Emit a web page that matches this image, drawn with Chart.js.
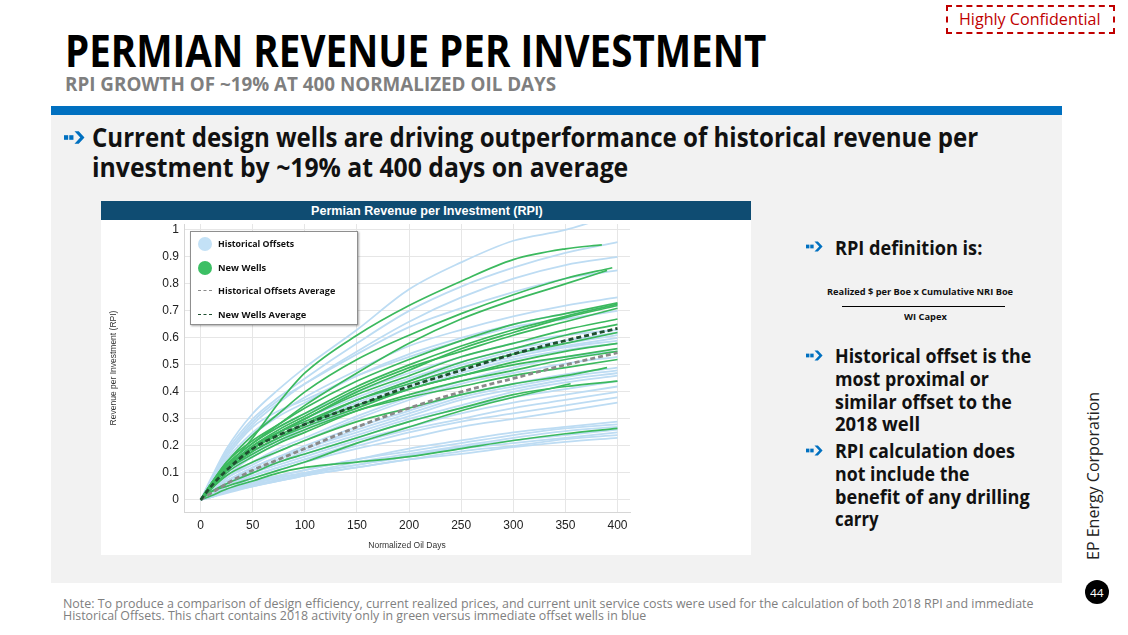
<!DOCTYPE html>
<html><head><meta charset="utf-8">
<script src="https://cdn.jsdelivr.net/npm/chart.js@4.4.1/dist/chart.umd.min.js"></script>
<style>
html,body{margin:0;padding:0}
body{width:1128px;height:635px;position:relative;background:#fff;overflow:hidden;font-family:"Open Sans",sans-serif;}
.abs{position:absolute;white-space:nowrap;line-height:1;}
.fit{display:inline-block;transform-origin:0 50%;white-space:nowrap}
.b{font-weight:700}
.arrow{position:absolute}
</style></head><body>
<!-- header -->
<div class="abs" style="left:946px;top:5px;width:165px;height:25px;border:2px dashed #c00000;"></div>
<div class="abs" style="left:959px;top:10px;font-size:17px;color:#c00000;font-family:'Open Sans'"><span class="fit" data-w="142">Highly Confidential</span></div>
<div class="abs b" style="left:65px;top:28px;font-size:44px;color:#000;"><span class="fit" data-w="701">PERMIAN REVENUE PER INVESTMENT</span></div>
<div class="abs b" style="left:65px;top:74px;font-size:20px;color:#7f7f7f;"><span class="fit" data-w="491">RPI GROWTH OF ~19% AT 400 NORMALIZED OIL DAYS</span></div>
<div class="abs" style="left:51px;top:106px;width:1011px;height:9px;background:#0070c0"></div>
<div class="abs" style="left:51px;top:115px;width:1011px;height:468px;background:#f2f2f2"></div>

<svg class="arrow" style="left:64px;top:131px" width="21" height="13" viewBox="0 0 20 12"><rect x="0" y="3.8" width="4" height="4.4" fill="#0070c0"/><rect x="5" y="3.8" width="4" height="4.4" fill="#0070c0"/><polygon points="10,0 14,0 19.5,6 14,12 10,12 15.5,6" fill="#0070c0"/></svg>
<div class="abs b" style="left:92px;top:124px;font-size:26px;color:#111;"><span class="fit" data-w="886">Current design wells are driving outperformance of historical revenue per</span></div>
<div class="abs b" style="left:92px;top:154px;font-size:26px;color:#111;"><span class="fit" data-w="536">investment by ~19% at 400 days on average</span></div>

<!-- chart box -->
<div class="abs" style="left:101px;top:201px;width:650px;height:19px;background:#0f4c72"></div>
<div class="abs b" style="left:311px;top:205px;font-size:12px;color:#fff;font-family:'Liberation Sans'"><span class="fit" data-w="232">Permian Revenue per Investment (RPI)</span></div>
<div class="abs" style="left:101px;top:220px;width:650px;height:335px;background:#fff">
  <canvas id="c" width="650" height="335" style="width:650px;height:335px;display:block"></canvas>
</div>

<!-- legend -->
<div class="abs" style="left:190px;top:231px;width:166px;height:92px;background:#fff;border:1px solid #8f8f8f;box-shadow:1px 1px 2px rgba(0,0,0,0.35)"></div>
<div class="abs" style="left:198px;top:237px;width:14px;height:14px;border-radius:50%;background:#c3e1f6"></div>
<div class="abs" style="left:198px;top:261px;width:14px;height:14px;border-radius:50%;background:#3cbf64"></div>
<div class="abs" style="left:198px;top:290px;width:14px;height:0;border-top:1.5px dashed #8a8a8a"></div>
<div class="abs" style="left:198px;top:314px;width:14px;height:0;border-top:1.5px dashed #1f4f30"></div>
<div class="abs b" style="left:218px;top:239px;font-size:9.5px;color:#111"><span class="fit" data-w="76">Historical Offsets</span></div>
<div class="abs b" style="left:218px;top:263px;font-size:9.5px;color:#111"><span class="fit" data-w="48">New Wells</span></div>
<div class="abs b" style="left:218px;top:286px;font-size:9.5px;color:#111"><span class="fit" data-w="117">Historical Offsets Average</span></div>
<div class="abs b" style="left:218px;top:310px;font-size:9.5px;color:#111"><span class="fit" data-w="88">New Wells Average</span></div>

<!-- right column -->
<svg class="arrow" style="left:806px;top:241px" width="17" height="11" viewBox="0 0 20 12"><rect x="0" y="3.8" width="4" height="4.4" fill="#0070c0"/><rect x="5" y="3.8" width="4" height="4.4" fill="#0070c0"/><polygon points="10,0 14,0 19.5,6 14,12 10,12 15.5,6" fill="#0070c0"/></svg>
<div class="abs b" style="left:835px;top:238px;font-size:19.5px;color:#111"><span class="fit" data-w="147">RPI definition is:</span></div>
<div class="abs b" style="left:827px;top:288px;font-size:8px;color:#111"><span class="fit" data-w="186">Realized $ per Boe x Cumulative NRI Boe</span></div>
<div class="abs" style="left:842px;top:305.5px;width:163px;height:1.6px;background:#000"></div>
<div class="abs b" style="left:904px;top:313px;font-size:8px;color:#111"><span class="fit" data-w="43">WI Capex</span></div>

<svg class="arrow" style="left:806px;top:350px" width="17" height="11" viewBox="0 0 20 12"><rect x="0" y="3.8" width="4" height="4.4" fill="#0070c0"/><rect x="5" y="3.8" width="4" height="4.4" fill="#0070c0"/><polygon points="10,0 14,0 19.5,6 14,12 10,12 15.5,6" fill="#0070c0"/></svg>
<div class="abs b" style="left:835px;top:347.4px;font-size:18.7px;color:#111"><span class="fit" data-w="196">Historical offset is the</span></div>
<div class="abs b" style="left:835px;top:370.1px;font-size:18.7px;color:#111"><span class="fit" data-w="154">most proximal or</span></div>
<div class="abs b" style="left:835px;top:392.8px;font-size:18.7px;color:#111"><span class="fit" data-w="177">similar offset to the</span></div>
<div class="abs b" style="left:835px;top:415.4px;font-size:18.7px;color:#111"><span class="fit" data-w="85">2018 well</span></div>
<svg class="arrow" style="left:806px;top:445px" width="17" height="11" viewBox="0 0 20 12"><rect x="0" y="3.8" width="4" height="4.4" fill="#0070c0"/><rect x="5" y="3.8" width="4" height="4.4" fill="#0070c0"/><polygon points="10,0 14,0 19.5,6 14,12 10,12 15.5,6" fill="#0070c0"/></svg>
<div class="abs b" style="left:835px;top:442.4px;font-size:18.7px;color:#111"><span class="fit" data-w="180">RPI calculation does</span></div>
<div class="abs b" style="left:835px;top:465.1px;font-size:18.7px;color:#111"><span class="fit" data-w="135">not include the</span></div>
<div class="abs b" style="left:835px;top:487.8px;font-size:18.7px;color:#111"><span class="fit" data-w="195">benefit of any drilling</span></div>
<div class="abs b" style="left:835px;top:510.4px;font-size:18.7px;color:#111"><span class="fit" data-w="44">carry</span></div>

<div class="abs" style="left:1009px;top:468px;width:168px;height:16px;font-size:16.4px;color:#222;transform:rotate(-90deg);transform-origin:84px 8px"><span class="fit" data-w="168">EP Energy Corporation</span></div>
<div class="abs" style="left:1085px;top:580px;width:24px;height:24px;border-radius:50%;background:#000"></div>
<div class="abs" style="left:1090px;top:587px;font-size:11px;color:#fff"><span class="fit" data-w="14">44</span></div>

<div class="abs" style="left:63px;top:598px;font-size:12px;color:#808080"><span class="fit" data-w="970">Note: To produce a comparison of design efficiency, current realized prices, and current unit service costs were used for the calculation of both 2018 RPI and immediate</span></div>
<div class="abs" style="left:63px;top:610px;font-size:12px;color:#808080"><span class="fit" data-w="583">Historical Offsets. This chart contains 2018 activity only in green versus immediate offset wells in blue</span></div>

<script>
// ---------- DATA ----------
const days    = [0,10,25,50,75,100,150,200,250,300,350,400];
const days385 = [0,10,25,50,75,100,150,200,250,300,350,385];
const days390 = [0,10,25,50,75,100,150,200,250,300,350,390];
const days395 = [0,10,25,50,75,100,150,200,250,300,350,395];
const days355 = [0,10,25,50,75,100,150,200,250,300,355];
const xTicks = [0,50,100,150,200,250,300,350,400];
const yTicks = [0,0.1,0.2,0.3,0.4,0.5,0.6,0.7,0.8,0.9,1];
const yTickLabels = ['0','0.1','0.2','0.3','0.4','0.5','0.6','0.7','0.8','0.9','1'];

// Historical offsets (blue), RPI at each of `days`
const hist01 = [0,0.08,0.19,0.32,0.41,0.49,0.63,0.78,0.88,0.96,1.0,1.06];
const hist02 = [0,0.07,0.18,0.30,0.38,0.45,0.58,0.70,0.79,0.86,0.915,0.955];
const hist03 = [0,0.07,0.17,0.28,0.36,0.43,0.55,0.66,0.75,0.82,0.87,0.90];
const hist04 = [0,0.07,0.17,0.29,0.37,0.43,0.54,0.64,0.71,0.77,0.82,0.85];
const hist05 = [0,0.06,0.15,0.25,0.32,0.38,0.48,0.57,0.63,0.68,0.72,0.75];
const hist06 = [0,0.06,0.14,0.24,0.31,0.36,0.46,0.54,0.60,0.65,0.69,0.72];
const hist07 = [0,0.07,0.16,0.27,0.33,0.37,0.46,0.53,0.59,0.64,0.67,0.70];
const hist08 = [0,0.05,0.12,0.21,0.27,0.32,0.40,0.47,0.53,0.58,0.61,0.63];
const hist09 = [0,0.04,0.11,0.19,0.25,0.30,0.38,0.45,0.51,0.56,0.59,0.62];
const hist10 = [0,0.05,0.12,0.19,0.25,0.29,0.37,0.44,0.50,0.55,0.58,0.61];
const hist11 = [0,0.04,0.10,0.17,0.23,0.28,0.36,0.43,0.49,0.54,0.57,0.60];
const hist12 = [0,0.04,0.10,0.17,0.22,0.27,0.35,0.42,0.48,0.53,0.565,0.59];
const hist13 = [0,0.04,0.09,0.16,0.21,0.26,0.34,0.41,0.47,0.52,0.555,0.58];
const hist14 = [0,0.03,0.08,0.14,0.19,0.23,0.31,0.38,0.44,0.49,0.53,0.55];
const hist15 = [0,0.03,0.08,0.13,0.18,0.22,0.30,0.37,0.43,0.47,0.505,0.53];
const hist16 = [0,0.03,0.07,0.12,0.16,0.20,0.27,0.33,0.39,0.43,0.465,0.49];
const hist17 = [0,0.03,0.07,0.12,0.16,0.19,0.26,0.32,0.38,0.42,0.455,0.48];
const hist18 = [0,0.03,0.07,0.11,0.15,0.19,0.25,0.31,0.37,0.41,0.445,0.47];
const hist19 = [0,0.02,0.06,0.11,0.14,0.18,0.24,0.30,0.35,0.40,0.435,0.46];
const hist20 = [0,0.02,0.06,0.10,0.14,0.17,0.23,0.29,0.34,0.38,0.41,0.44];
const hist21 = [0,0.02,0.05,0.10,0.13,0.16,0.22,0.27,0.32,0.36,0.39,0.42];
const hist22 = [0,0.02,0.05,0.09,0.12,0.15,0.21,0.26,0.30,0.34,0.37,0.40];
const hist23 = [0,0.02,0.05,0.09,0.12,0.15,0.20,0.25,0.29,0.32,0.35,0.38];
const hist24 = [0,0.02,0.04,0.08,0.11,0.14,0.19,0.23,0.27,0.30,0.33,0.36];
const hist25 = [0,0.015,0.04,0.07,0.09,0.11,0.15,0.19,0.22,0.25,0.27,0.29];
const hist26 = [0,0.015,0.035,0.065,0.09,0.11,0.15,0.18,0.21,0.24,0.265,0.28];
const hist27 = [0,0.015,0.035,0.06,0.085,0.10,0.14,0.17,0.20,0.23,0.255,0.27];
const hist28 = [0,0.01,0.03,0.06,0.08,0.10,0.13,0.165,0.195,0.22,0.24,0.26];
const hist29 = [0,0.01,0.03,0.055,0.075,0.095,0.13,0.16,0.19,0.21,0.23,0.25];
const hist30 = [0,0.01,0.03,0.05,0.07,0.09,0.12,0.15,0.18,0.20,0.225,0.24];
const hist31 = [0,0.01,0.025,0.05,0.07,0.09,0.12,0.15,0.17,0.195,0.215,0.23];

// New wells (green)
const new01 = [0,0.05,0.12,0.23,0.36,0.47,0.61,0.72,0.81,0.89,0.93,0.945]; // days385
const new02 = [0,0.06,0.14,0.24,0.32,0.40,0.52,0.61,0.69,0.76,0.82,0.86];  // days395
const new03 = [0,0.05,0.13,0.21,0.28,0.35,0.47,0.58,0.67,0.74,0.80,0.85];  // days390
const new04 = [0,0.06,0.14,0.22,0.28,0.34,0.44,0.52,0.59,0.65,0.69,0.73];
const new05 = [0,0.06,0.13,0.21,0.27,0.32,0.42,0.50,0.57,0.63,0.68,0.725];
const new06 = [0,0.05,0.12,0.19,0.25,0.30,0.40,0.48,0.56,0.62,0.675,0.72];
const new07 = [0,0.05,0.12,0.20,0.26,0.31,0.41,0.49,0.55,0.61,0.66,0.71];
const new08 = [0,0.05,0.12,0.19,0.25,0.30,0.39,0.46,0.53,0.58,0.63,0.67];
const new09 = [0,0.05,0.11,0.18,0.23,0.28,0.37,0.44,0.51,0.56,0.61,0.65];
const new10 = [0,0.06,0.12,0.20,0.25,0.29,0.37,0.43,0.49,0.54,0.58,0.62];
const new11 = [0,0.05,0.11,0.18,0.23,0.27,0.34,0.41,0.46,0.51,0.55,0.58];
const new12 = [0,0.06,0.12,0.19,0.24,0.28,0.35,0.41,0.46,0.50,0.53,0.56];
const new13 = [0,0.04,0.10,0.16,0.21,0.25,0.33,0.39,0.44,0.48,0.52,0.55];
const new14 = [0,0.05,0.11,0.17,0.22,0.26,0.33,0.38,0.42,0.46,0.49,0.52];
const new15 = [0,0.04,0.09,0.14,0.18,0.22,0.29,0.34,0.39,0.43,0.46,0.49];  // days390
const new16 = [0,0.03,0.06,0.10,0.14,0.17,0.23,0.29,0.34,0.39,0.42,0.44];
const new17 = [0,0.03,0.05,0.08,0.11,0.14,0.21,0.27,0.33,0.38,0.43];      // days355
const new18 = [0,0.015,0.04,0.07,0.10,0.12,0.14,0.16,0.19,0.22,0.245,0.265];

// Averages
const histAvg = [0,0.025,0.06,0.11,0.15,0.19,0.27,0.34,0.40,0.45,0.50,0.545];
const newAvg  = [0,0.05,0.11,0.19,0.24,0.28,0.35,0.42,0.48,0.54,0.59,0.635];

// ---------- BUILD ----------
const pts = (xs, ys) => ys.map((y, i) => ({x: xs[i], y}));
const histSeries = [hist01,hist02,hist03,hist04,hist05,hist06,hist07,hist08,hist09,hist10,hist11,hist12,hist13,hist14,hist15,hist16,hist17,hist18,hist19,hist20,hist21,hist22,hist23,hist24,hist25,hist26,hist27,hist28,hist29,hist30,hist31];
const newSeries = [[days385,new01],[days395,new02],[days390,new03],[days,new04],[days,new05],[days,new06],[days,new07],[days,new08],[days,new09],[days,new10],[days,new11],[days,new12],[days,new13],[days,new14],[days390,new15],[days,new16],[days355,new17],[days,new18]];

const base = {pointRadius:0, pointHoverRadius:0, fill:false, tension:0.4, cubicInterpolationMode:'monotone'};
const datasets = [];
histSeries.forEach((s,i)=>datasets.push({...base, label:'Historical Offsets '+(i+1), data:pts(days,s), borderColor:'#bddcf3', borderWidth:1.8, order:3}));
newSeries.forEach((s,i)=>datasets.push({...base, label:'New Wells '+(i+1), data:pts(s[0],s[1]), borderColor:'#3bb95e', borderWidth:1.7, order:2}));
datasets.push({...base, label:'Historical Offsets Average', data:pts(days,histAvg), borderColor:'#8a8a8a', borderWidth:2.8, borderDash:[5,3], order:1});
datasets.push({...base, label:'New Wells Average', data:pts(days,newAvg), borderColor:'#1f4f30', borderWidth:2.8, borderDash:[5,3], order:0});

const tickFont = {family:'Liberation Sans', size:12};
new Chart(document.getElementById('c'), {
  type:'line',
  data:{datasets},
  options:{
    responsive:false, animation:false, events:[],
    layout:{padding:{left:0,right:121,top:4,bottom:0}},
    plugins:{legend:{display:false}, tooltip:{enabled:false}, title:{display:false}},
    scales:{
      x:{type:'linear', min:-16, max:412,
        afterBuildTicks:s=>{s.ticks = xTicks.map(v=>({value:v}));},
        afterFit:s=>{s.height = 43; s.paddingLeft = 0; s.paddingRight = 0;},
        grid:{color:'#e6e6e6', drawTicks:false, lineWidth:1},
        border:{color:'#d6d6d6'},
        ticks:{font:tickFont, color:'#222', padding:6, maxRotation:0, callback:v=>String(v)},
        title:{display:true, text:'Normalized Oil Days', font:{family:'Liberation Sans', size:8.5}, color:'#333', padding:{top:0,bottom:4}}
      },
      y:{type:'linear', min:-0.045, max:1.022,
        afterBuildTicks:s=>{s.ticks = yTicks.map(v=>({value:v}));},
        afterFit:s=>{s.width = 83; s.paddingTop = 0; s.paddingBottom = 0;},
        grid:{color:'#e6e6e6', drawTicks:false, lineWidth:1},
        border:{color:'#d6d6d6'},
        ticks:{font:tickFont, color:'#222', padding:5, callback:(v)=>{const i=yTicks.indexOf(v); return i>=0?yTickLabels[i]:'';}},
        title:{display:true, text:'Revenue per Investment (RPI)', font:{family:'Liberation Sans', size:8.5}, color:'#333', padding:{top:8,bottom:0}}
      }
    }
  }
});

// ---------- fit text widths ----------
function fit(){
  document.querySelectorAll('.fit').forEach(el=>{
    el.style.transform='none';
    const w = el.offsetWidth;
    const t = parseFloat(el.dataset.w);
    if (w>0) el.style.transform = 'scaleX(' + (t/w) + ')';
  });
}
fit();
if (document.fonts && document.fonts.ready) document.fonts.ready.then(fit);
</script>
</body></html>
